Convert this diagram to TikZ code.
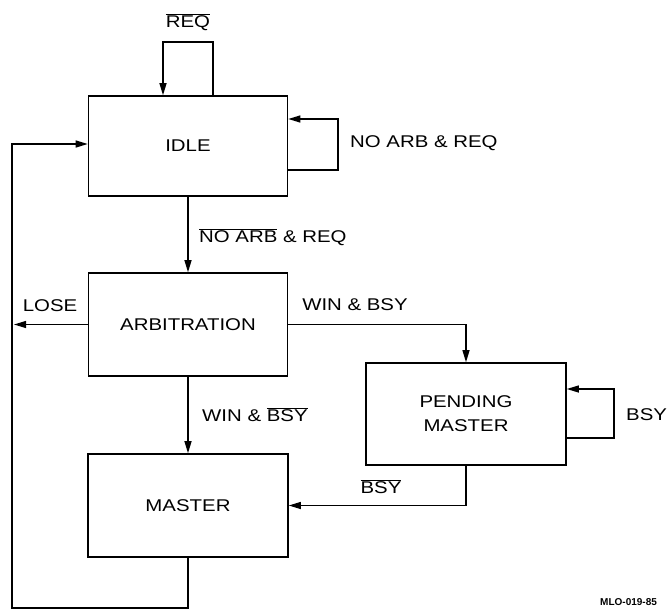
\documentclass[tikz,border=0pt]{standalone}
\usepackage{fontspec}
\usepackage{graphicx}
\setmainfont{Liberation Sans}
\usetikzlibrary{arrows.meta}
\newcommand{\wide}[1]{\scalebox{1.2}[1]{#1}}
\newcommand{\ovl}[1]{$\overline{\mbox{#1}}$}
\begin{document}
\begin{tikzpicture}[x=1pt,y=-1pt,
  state/.style={draw, line width=1.6pt, inner sep=0pt, align=center,
    font=\fontsize{17}{24}\selectfont},
  lbl/.style={inner sep=0pt, font=\fontsize{17}{20}\selectfont},
  conn/.style={line width=1.2pt},
  arr/.style={conn, -{Triangle[length=12pt,width=7pt]}}]
\useasboundingbox (0,0) rectangle (667,610);
% states
\node[state, minimum width=199pt, minimum height=100pt] (idle) at (188,146) {\wide{IDLE}};
\node[state, minimum width=199pt, minimum height=103pt] (arb) at (188,324.5) {\wide{ARBITRATION}};
\node[state, minimum width=200pt, minimum height=102pt] (pm) at (466,414) {\wide{PENDING}\\\wide{MASTER}};
\node[state, minimum width=200pt, minimum height=103pt] (master) at (188,505.5) {\wide{MASTER}};
% helper coordinates
\coordinate (reqL) at (163,42);
\coordinate (reqR) at (213,42);
\coordinate (r1) at (338,119);
\coordinate (r2) at (338,170);
\coordinate (tl) at (12,144);
\coordinate (bl) at (12,608);
\coordinate (lose) at (14,324.5);
\coordinate (b1) at (614,389);
\coordinate (b2) at (614,438);
% connectors
\draw[arr] (idle.north -| reqR) -- (reqR) -- (reqL) -- (idle.north -| reqL);
\draw[arr] (idle.east |- r2) -- (r2) -- (r1) -- (idle.east |- r1);
\draw[arr] (idle.south) -- (arb.north);
\draw[arr] (arb.west) -- (lose);
\draw[arr] (arb.east) -| (pm.north);
\draw[arr] (arb.south) -- (master.north);
\draw[arr] (pm.east |- b2) -- (b2) -- (b1) -- (pm.east |- b1);
\draw[arr] (pm.south) |- (master.east);
\draw[arr] (master.south) |- (bl) -- (tl) -- (idle.west |- tl);
% labels
\node[lbl] (lreq) at (188,22) {\wide{\ovl{REQ}}};
\node[lbl, anchor=west] (lnoarb) at (350,143) {\wide{NO ARB \& REQ}};
\node[lbl, anchor=west] (lnoarb2) at (199,237) {\wide{\ovl{NO ARB} \& REQ}};
\node[lbl] (llose) at (50,306) {\wide{LOSE}};
\node[lbl] (lwinbsy) at (355,305) {\wide{WIN \& BSY}};
\node[lbl, anchor=west] (lwinnbsy) at (202,415) {\wide{WIN \& \ovl{BSY}}};
\node[lbl, anchor=west] (lbsy) at (626,415) {\wide{BSY}};
\node[lbl] (lnbsy) at (381,487) {\wide{\ovl{BSY}}};
\node[inner sep=0pt, anchor=west, font=\fontsize{10}{11}\selectfont\bfseries] (mlo) at (600,602) {MLO-019-85};
\end{tikzpicture}
\end{document}
